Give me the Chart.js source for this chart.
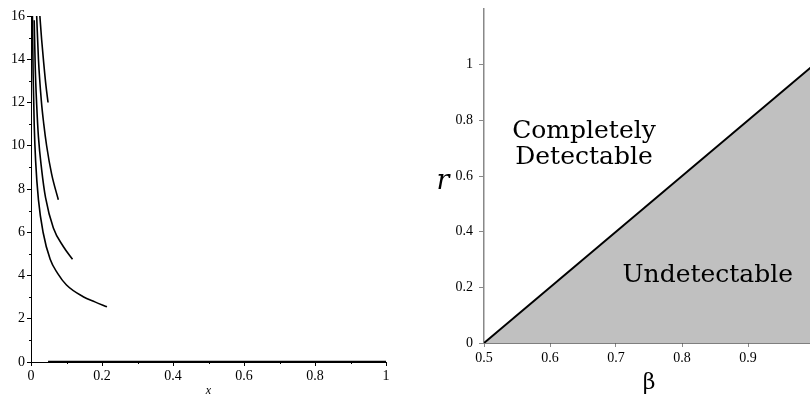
<!DOCTYPE html>
<html>
<head>
<meta charset="utf-8">
<script src="https://cdn.jsdelivr.net/npm/chart.js@4.4.1/dist/chart.umd.min.js"></script>
<style>
  html, body { margin:0; padding:0; background:#fff; }
  body { width:810px; height:396px; overflow:hidden; position:relative; }
  #w1 { position:absolute; left:0; top:0; width:400px; height:396px; }
  #w2 { position:absolute; left:400px; top:0; width:410px; height:396px; overflow:hidden; }
</style>
</head>
<body>
<div id="w1"><canvas id="c1" width="400" height="396"></canvas></div>
<div id="w2"><canvas id="c2" width="430" height="396"></canvas></div>
<script>
// ---------- Left panel data ----------
const curveA_x = [0.004, 0.006, 0.009, 0.013, 0.021, 0.034, 0.054, 0.075, 0.100, 0.147, 0.180, 0.214];
const curveA_y = [16, 13.3, 11.0, 9.3, 7.5, 6.0, 4.75, 4.1, 3.56, 3.02, 2.78, 2.55];
const curveB_x = [0.009, 0.012, 0.016, 0.021, 0.030, 0.041, 0.063, 0.091, 0.117];
const curveB_y = [15.8, 13.6, 11.9, 10.4, 8.9, 7.6, 6.2, 5.34, 4.75];
const curveC_x = [0.016, 0.021, 0.029, 0.036, 0.044, 0.058, 0.077];
const curveC_y = [16, 14.0, 12.1, 11.0, 10.0, 8.7, 7.5];
const curveD_x = [0.025, 0.030, 0.036, 0.042, 0.048];
const curveD_y = [16, 14.9, 13.8, 12.8, 12.0];
const zeroLine_x = [0.048, 1.0];
const zeroLine_y = [0, 0];
const leftXMinorTicks = [0.1, 0.3, 0.5, 0.7, 0.9];
const leftYMinorTicks = [1, 3, 5, 7, 9, 11, 13, 15];

// ---------- Right panel data ----------
const boundary_beta = [0.5, 1.0];
const boundary_r = [0, 1.0];
const rTicks = [0, 0.2, 0.4, 0.6, 0.8, 1.0];
const betaTicks = [0.5, 0.6, 0.7, 0.8, 0.9, 1.0];
const regionLabels = [
  { lines: ['Completely', 'Detectable'], beta: 0.6515, r: [0.737, 0.642] },
  { lines: ['Undetectable'], beta: 0.839, r: [0.219] }
];

Chart.defaults.font.family = 'Liberation Serif';
Chart.defaults.color = '#000';

const tickFont = { family: 'Liberation Serif', size: 14 };
const fmt = v => String(+Number(v).toFixed(1));

function series(xs, ys, w) {
  return {
    data: xs.map((x, i) => ({ x: x, y: ys[i] })),
    showLine: true, pointRadius: 0, borderColor: '#000', borderWidth: w,
    cubicInterpolationMode: 'monotone', fill: false
  };
}
function noPad(s) { s.paddingTop = 0; s.paddingBottom = 0; s.paddingLeft = 0; s.paddingRight = 0; }

const minorTicksPlugin = {
  id: 'minorTicks',
  afterDraw(chart) {
    const { ctx, chartArea, scales } = chart;
    ctx.save();
    ctx.strokeStyle = '#000';
    ctx.lineWidth = 1;
    ctx.beginPath();
    leftYMinorTicks.forEach(v => {
      const py = Math.round(scales.y.getPixelForValue(v)) + 0.5;
      ctx.moveTo(chartArea.left - 2, py); ctx.lineTo(chartArea.left, py);
    });
    leftXMinorTicks.forEach(v => {
      const px = Math.round(scales.x.getPixelForValue(v)) + 0.5;
      ctx.moveTo(px, chartArea.bottom); ctx.lineTo(px, chartArea.bottom + 2);
    });
    ctx.stroke();
    ctx.restore();
  }
};

new Chart(document.getElementById('c1'), {
  type: 'scatter',
  data: {
    datasets: [
      series(curveA_x, curveA_y, 1.6),
      series(curveB_x, curveB_y, 1.6),
      series(curveC_x, curveC_y, 1.6),
      series(curveD_x, curveD_y, 1.6),
      series(zeroLine_x, zeroLine_y, 2.5)
    ]
  },
  options: {
    responsive: false, animation: false,
    layout: { padding: { top: 16, right: 14, left: 0, bottom: 0 } },
    plugins: { legend: { display: false }, tooltip: { enabled: false } },
    scales: {
      x: {
        type: 'linear', min: 0, max: 1,
        ticks: { stepSize: 0.2, font: tickFont, color: '#000', padding: 2, maxRotation: 0, autoSkip: false,
                 callback: fmt },
        grid: { drawOnChartArea: false, tickLength: 4, color: '#000' },
        border: { color: '#000', width: 1 },
        title: { display: true, text: 'x', color: '#000',
                 font: { family: 'Liberation Serif', size: 12, style: 'italic' },
                 padding: { top: 0, bottom: -2 } },
        afterFit(s) { s.height = 34; noPad(s); }
      },
      y: {
        type: 'linear', min: 0, max: 16,
        ticks: { stepSize: 2, font: tickFont, color: '#000', padding: 2, callback: fmt },
        grid: { drawOnChartArea: false, tickLength: 4, color: '#000' },
        border: { color: '#000', width: 1 },
        afterFit(s) { s.width = 31; noPad(s); }
      }
    }
  },
  plugins: [minorTicksPlugin]
});

const annotatePlugin = {
  id: 'annotate',
  afterDatasetsDraw(chart) {
    const { ctx, chartArea, scales } = chart;
    ctx.save();
    ctx.fillStyle = '#000';
    ctx.textAlign = 'center';
    ctx.textBaseline = 'alphabetic';
    ctx.font = '25px "DejaVu Serif"';
    regionLabels.forEach(lab => {
      lab.lines.forEach((t, i) => {
        ctx.fillText(t, scales.x.getPixelForValue(lab.beta), scales.y.getPixelForValue(lab.r[i]));
      });
    });
    ctx.font = 'italic 27px "DejaVu Serif"';
    ctx.textBaseline = 'middle';
    ctx.fillText('r', chartArea.left - 41, scales.y.getPixelForValue(0.58));
    ctx.restore();
  }
};

new Chart(document.getElementById('c2'), {
  type: 'scatter',
  data: {
    datasets: [{
      data: boundary_beta.map((b, i) => ({ x: b, y: boundary_r[i] })),
      showLine: true, pointRadius: 0, borderColor: '#000', borderWidth: 2,
      fill: 'origin', backgroundColor: '#c0c0c0'
    }]
  },
  options: {
    responsive: false, animation: false,
    layout: { padding: { top: 9, right: 16, left: 0, bottom: 0 } },
    plugins: { legend: { display: false }, tooltip: { enabled: false } },
    scales: {
      x: {
        type: 'linear', min: 0.5, max: 1.0, z: 1,
        afterBuildTicks(s) { s.ticks = betaTicks.map(v => ({ value: v })); },
        ticks: { font: tickFont, color: '#000', padding: 3, maxRotation: 0, autoSkip: false,
                 callback: fmt },
        grid: { drawOnChartArea: false, tickLength: 4, color: '#888' },
        border: { color: '#000', width: 1.5 },
        title: { display: true, text: 'β', color: '#000',
                 font: { family: 'DejaVu Serif', size: 22 },
                 padding: { top: 0, bottom: 0 } },
        afterFit(s) { s.height = 53; noPad(s); }
      },
      y: {
        type: 'linear', min: 0, max: 1.2,
        afterBuildTicks(s) { s.ticks = rTicks.map(v => ({ value: v })); },
        ticks: { font: tickFont, color: '#000', padding: 6, callback: fmt },
        grid: { drawOnChartArea: false, tickLength: 5, color: '#888' },
        border: { color: '#888', width: 1.5 },
        afterFit(s) { s.width = 84; noPad(s); }
      }
    }
  },
  plugins: [annotatePlugin]
});
</script>
</body>
</html>
